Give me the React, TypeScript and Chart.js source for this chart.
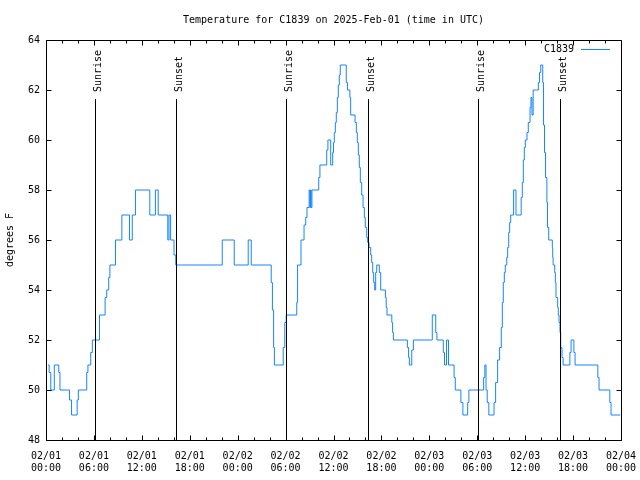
import { useEffect, useRef } from 'react';
import { Chart, registerables } from 'chart.js';

Chart.register(...registerables);

// ---- data (hours since 2025-02-01 00:00 UTC, temperature in °F; each value holds until the next point) ----
const tempHours = [
  0.25, 0.4, 0.6, 1.04, 1.6, 1.75, 2.95, 3.2, 3.9, 4.05, 5.1, 5.25, 5.6, 5.8, 6.7, 7.4, 7.6, 7.85, 8.0, 8.7,
  9.5, 10.45, 10.8, 11.2, 13.0, 13.7, 14.05, 15.25, 15.4, 15.6, 16.03, 16.25, 22.07, 23.57, 25.32, 25.7,
  28.2, 28.35, 28.5, 28.6, 29.7, 29.9, 30.08, 31.4, 31.5, 31.93, 32.31, 32.52, 32.68, 32.95, 33.05, 33.12,
  33.2, 33.3, 34.15, 34.3, 35.15, 35.3, 35.65, 35.9, 36.0, 36.1, 36.23, 36.35, 36.48, 36.6, 36.73, 36.85,
  37.6, 37.75, 38.05, 38.15, 38.7, 38.86, 38.98, 39.11, 39.23, 39.36, 39.53, 39.7, 39.86, 39.98, 40.16,
  40.28, 40.45, 40.66, 40.78, 40.91, 41.03, 41.16, 41.28, 41.41, 41.74, 41.91, 42.5, 42.6, 42.7, 43.3,
  43.4, 43.5, 45.25, 45.4, 45.5, 45.8, 46.0, 48.37, 48.8, 48.95, 49.75, 49.9, 50.15, 50.4, 51.1, 51.25,
  51.95, 52.2, 52.8, 52.95, 54.8, 54.95, 55.1, 55.25, 55.45, 56.1, 56.3, 56.55, 56.8, 57.01, 57.14, 57.26,
  57.39, 57.51, 57.69, 57.81, 57.94, 58.06, 58.19, 58.55, 58.85, 59.5, 59.64, 59.77, 59.89, 60.02, 60.23,
  60.39, 60.61, 60.73, 60.85, 61.0, 61.4, 61.65, 61.8, 61.95, 62.2, 62.3, 62.42,
  62.55, 62.72, 62.8, 62.95, 63.4, 63.45, 63.5, 63.7, 63.78, 63.86, 64.07, 64.15, 64.24, 64.36, 64.45,
  64.61, 64.75, 65.6, 65.75, 66.1, 66.25, 69.1, 69.25, 70.6, 70.75, 71.9,
];
const tempValues = [
  51, 50.7, 50, 51, 50.7, 50, 49.6, 49, 49.6, 50, 50.7, 51, 51.5, 52, 53, 53.7, 54, 54.5, 55, 56,
  57, 56, 57, 58, 57, 58, 57, 56, 57, 56, 55.4, 55, 56, 55, 56, 55,
  54.3, 53.2, 51.7, 51, 51.7, 52.7, 53, 53.5, 55, 56, 56.6, 56.9, 57.3, 58, 57.3, 58,
  57.3, 58, 58.5, 59, 59.6, 60, 59, 59.5, 59.9, 60.3, 60.7, 61.1, 61.7, 62.2, 62.6, 63,
  62.3, 62, 61.7, 61, 60.7, 60.3, 59.9, 59.4, 58.9, 58.3, 57.8, 57.3, 56.9, 56.5, 56.1,
  55.9, 55.7, 55.4, 55.1, 54.7, 54.3, 54, 54.7, 55, 54.7, 54, 53.7, 53.3, 53, 52.7,
  52.3, 52, 51.7, 51.3, 51, 51.6, 52, 53, 52.3, 52, 51.5, 51, 52, 51, 50.5, 50,
  49.5, 49, 49.5, 50, 50.5, 51, 50, 49.5, 49, 49.5, 50.3, 51.2, 51.7, 52.5, 53.5, 54.3,
  54.7, 55, 55.3, 55.7, 56.3, 56.7, 57, 58, 57, 57.7, 58.3, 59.2, 59.7, 60, 60.3,
  60.7, 61.3, 61.7, 61, 62, 62, 62.3, 62.7, 63, 62.3, 60.6, 59.5,
  58.5, 57.5, 56.5, 56, 55.7, 55.3, 55, 54.7, 54.3, 53.7, 53.3, 53, 52.7, 52.3, 51.7,
  51.3, 51, 51.5, 52, 51.5, 51, 50.5, 50, 49.5, 49, 49,
];
const sunriseHours = [6.13, 30.09, 54.13];
const sunsetHours = [16.32, 40.36, 64.4];
const sunLineTop = 61.66;
const xTickDays = ['02/01', '02/01', '02/01', '02/01', '02/02', '02/02', '02/02', '02/02', '02/03', '02/03', '02/03', '02/03', '02/04'];
const xTickTimes = ['00:00', '06:00', '12:00', '18:00', '00:00', '06:00', '12:00', '18:00', '00:00', '06:00', '12:00', '18:00', '00:00'];
const seriesName = 'C1839';
const titleText = 'Temperature for C1839 on 2025-Feb-01 (time in UTC)';
const yAxisTitle = 'degrees F';

const FONT_FAMILY = "'DejaVu Sans Mono', 'Liberation Mono', monospace";
const FONT_SIZE = 10;
const LINE_COLOR = '#1585ff';

const decorPlugin = {
  id: 'decor',
  afterDatasetsDraw(chart: any) {
    const { ctx, chartArea: ca, scales } = chart;
    const xs = scales.x;
    const ys = scales.y;
    ctx.save();
    ctx.strokeStyle = '#000';
    ctx.fillStyle = '#000';
    ctx.lineWidth = 1;
    const L = Math.round(ca.left) + 0.5;
    const T = Math.round(ca.top) + 0.5;
    const R = Math.round(ca.right) + 0.5;
    const B = Math.round(ca.bottom) + 0.5;
    ctx.beginPath();
    ctx.rect(L, T, R - L, B - T);
    ctx.stroke();

    // inward tick marks on all four sides
    ctx.beginPath();
    for (let h = 0; h <= 72; h += 2) {
      const px = Math.round(xs.getPixelForValue(h)) + 0.5;
      const len = h % 6 === 0 ? 5 : 3;
      ctx.moveTo(px, B);
      ctx.lineTo(px, B - len);
      ctx.moveTo(px, T);
      ctx.lineTo(px, T + len);
    }
    for (let v = 48; v <= 64; v += 2) {
      const py = Math.round(ys.getPixelForValue(v)) + 0.5;
      ctx.moveTo(L, py);
      ctx.lineTo(L + 5, py);
      ctx.moveTo(R, py);
      ctx.lineTo(R - 5, py);
    }
    ctx.stroke();

    ctx.font = `${FONT_SIZE}px ${FONT_FAMILY}`;

    // sunrise / sunset lines and labels
    const topPx = ys.getPixelForValue(sunLineTop);
    const bottomPx = ys.getPixelForValue(48);
    const drawSun = (h: number, label: string) => {
      const px = Math.round(xs.getPixelForValue(h)) + 0.5;
      ctx.strokeStyle = '#000';
      ctx.beginPath();
      ctx.moveTo(px, Math.round(topPx));
      ctx.lineTo(px, bottomPx);
      ctx.stroke();
      ctx.save();
      ctx.translate(px + 5, topPx - 6.5);
      ctx.rotate(-Math.PI / 2);
      ctx.textAlign = 'left';
      ctx.textBaseline = 'alphabetic';
      ctx.fillText(label, 0, 0);
      ctx.restore();
    };
    sunriseHours.forEach((h) => drawSun(h, 'Sunrise'));
    sunsetHours.forEach((h) => drawSun(h, 'Sunset'));

    // legend
    const ly = Math.round(ca.top + 9) + 0.5;
    ctx.textAlign = 'right';
    ctx.textBaseline = 'middle';
    ctx.fillText(seriesName, ca.right - 47, ly);
    ctx.strokeStyle = LINE_COLOR;
    ctx.beginPath();
    ctx.moveTo(ca.right - 40, ly);
    ctx.lineTo(ca.right - 11, ly);
    ctx.stroke();

    // title
    ctx.fillStyle = '#000';
    ctx.textAlign = 'center';
    ctx.textBaseline = 'middle';
    ctx.fillText(titleText, (ca.left + ca.right) / 2, 20);
    ctx.restore();
  },
};

export default function App() {
  const canvasRef = useRef<HTMLCanvasElement | null>(null);

  useEffect(() => {
    if (!canvasRef.current) return;
    Chart.defaults.color = '#000';
    Chart.defaults.font.family = FONT_FAMILY;
    Chart.defaults.font.size = FONT_SIZE;

    const chart = new Chart(canvasRef.current, {
      type: 'line',
      data: {
        datasets: [
          {
            label: seriesName,
            data: tempHours.map((h, i) => ({ x: h, y: tempValues[i] })),
            borderColor: LINE_COLOR,
            borderWidth: 1,
            pointRadius: 0,
            stepped: true,
            fill: false,
          },
        ],
      },
      options: {
        responsive: false,
        animation: false,
        layout: { padding: { top: 40, right: 19, left: 0, bottom: 0 } },
        plugins: {
          legend: { display: false },
          title: { display: false },
          tooltip: { enabled: false },
        },
        scales: {
          x: {
            type: 'linear',
            min: 0,
            max: 72,
            afterFit: (s: any) => {
              s.height = 40;
              s.paddingLeft = 0;
              s.paddingRight = 0;
            },
            grid: { display: false, drawTicks: false },
            border: { display: false },
            ticks: {
              stepSize: 6,
              autoSkip: false,
              maxRotation: 0,
              padding: 10,
              color: '#000',
              font: { family: FONT_FAMILY, size: FONT_SIZE },
              callback: (v: any) => {
                const i = Math.round(Number(v) / 6);
                return [xTickDays[i], xTickTimes[i]];
              },
            },
          },
          y: {
            type: 'linear',
            min: 48,
            max: 64,
            afterFit: (s: any) => {
              s.width = 46;
              s.paddingTop = 0;
              s.paddingBottom = 0;
            },
            grid: { display: false, drawTicks: false },
            border: { display: false },
            ticks: {
              stepSize: 2,
              padding: 6,
              color: '#000',
              font: { family: FONT_FAMILY, size: FONT_SIZE },
            },
            title: {
              display: true,
              text: yAxisTitle,
              color: '#000',
              font: { family: FONT_FAMILY, size: FONT_SIZE },
              padding: { top: 4, bottom: 0 },
            },
          },
        },
      },
      plugins: [decorPlugin],
    } as any);

    return () => {
      chart.destroy();
    };
  }, []);

  return (
    <canvas
      ref={canvasRef}
      width={640}
      height={480}
      style={{ position: 'fixed', left: 0, top: 0, width: 640, height: 480, background: '#fff' }}
    />
  );
}
